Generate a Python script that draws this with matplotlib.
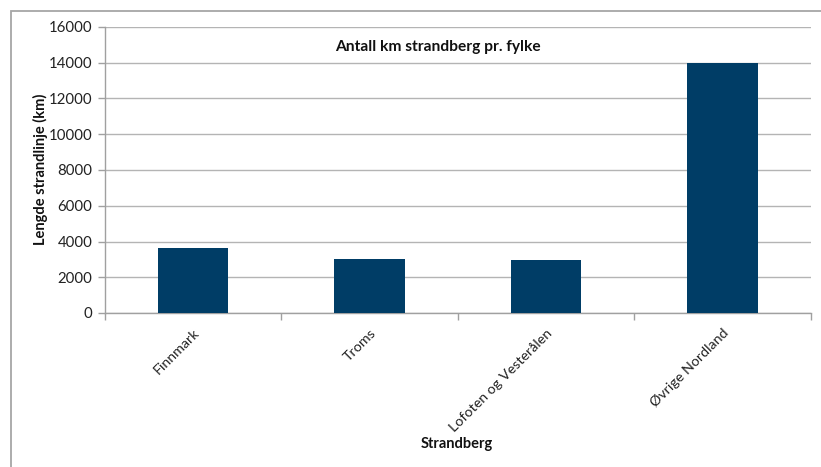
import matplotlib
matplotlib.use("Agg")
import matplotlib.pyplot as plt
from matplotlib.patches import Rectangle

# Coastline length per county
categories = ["Finnmark", "Troms", "Lofoten og Vesterålen", "Øvrige Nordland"]
values = [3620, 3000, 2960, 14000]
yticks = [0, 2000, 4000, 6000, 8000, 10000, 12000, 14000, 16000]

W, H = 821, 467
plt.rcParams["font.family"] = ["Lato", "DejaVu Sans"]

fig = plt.figure(figsize=(W / 100, H / 100), dpi=100)

# outer frame of the chart area
fig.patches.append(Rectangle((11 / W, -0.05), 1.2, 1 - 10.5 / H + 0.05,
                             transform=fig.transFigure, fill=False,
                             edgecolor="#a6a6a6", linewidth=1.3))

left, right, top, bottom = 104.7, 810.7, 27, 313
ax = fig.add_axes([left / W, 1 - bottom / H, (right - left) / W, (bottom - top) / H])

x = range(len(categories))
ax.bar(x, values, width=0.4, color="#003d66", zorder=3)

ax.set_xlim(-0.5, len(categories) - 0.5)
ax.set_ylim(0, 16000)
ax.set_yticks(yticks)
ax.set_yticklabels([str(t) for t in yticks], fontsize=10.8, color="#222222")
ax.yaxis.grid(True, color="#b4b4b4", linewidth=1.0, zorder=0)
ax.set_axisbelow(True)

ax.set_xticks([i - 0.5 for i in range(len(categories) + 1)])
ax.set_xticklabels([])
ax.set_xticks(list(x), minor=True)
ax.set_xticklabels(categories, minor=True, rotation=45, ha="right", va="top",
                   rotation_mode="anchor", fontsize=10.3, color="#222222")
ax.tick_params(axis="x", which="minor", length=0, pad=10)
ax.tick_params(axis="x", which="major", length=5, color="#a0a0a0", width=1)
ax.tick_params(axis="y", length=5, color="#a0a0a0", width=1, pad=4)

for s in ["top", "right"]:
    ax.spines[s].set_visible(False)
for s in ["left", "bottom"]:
    ax.spines[s].set_color("#a0a0a0")
    ax.spines[s].set_linewidth(1.0)

fig.text(438 / W, 1 - 47 / H, "Antall km strandberg pr. fylke", ha="center",
         va="center", fontsize=11.2, fontweight="bold", color="#111111")
fig.text(40 / W, 1 - 169 / H, "Lengde strandlinje (km)", ha="center",
         va="center", rotation=90, fontsize=10.5, fontweight="bold", color="#111111")
fig.text(457 / W, 1 - 444 / H, "Strandberg", ha="center", va="center",
         fontsize=10.5, fontweight="bold", color="#111111")

fig.savefig("out.png", dpi=100, facecolor="white")
